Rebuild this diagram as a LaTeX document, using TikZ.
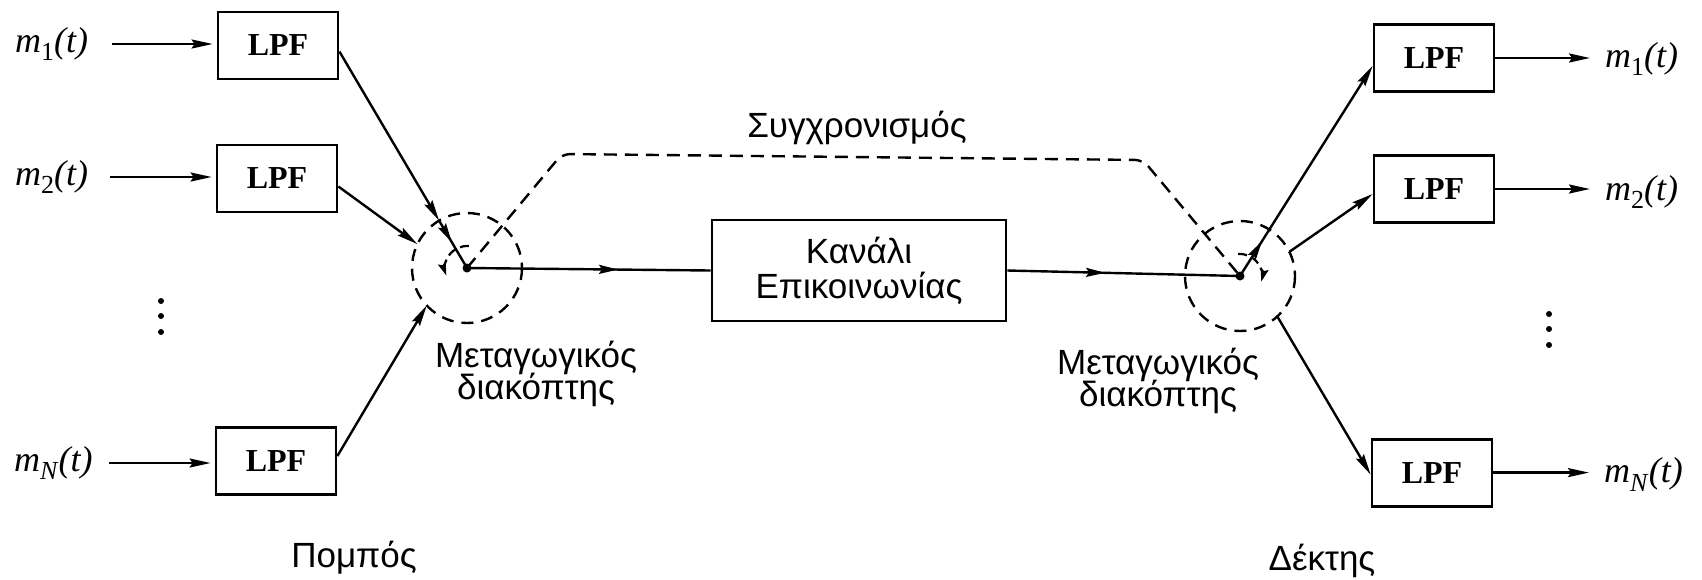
\documentclass[tikz,border=0pt]{standalone}
\usepackage{fontspec}
\setmainfont{Liberation Serif}
\setsansfont{Liberation Sans}
\usetikzlibrary{arrows.meta,decorations.markings,calc}

% message symbol m_i(t)
\newcommand\msig[1]{\textit{m}\raisebox{-8.5pt}{\fontsize{26}{26}\selectfont #1}\textit{(t)}}

\begin{document}
\begin{tikzpicture}[x=1pt,y=-1pt,
  lpf/.style={draw, line width=2.8pt, minimum width=120pt, minimum height=67pt,
    inner sep=0pt, font=\bfseries\fontsize{32}{32}\selectfont},
  chan/.style={draw, line width=2.8pt, minimum width=294pt, minimum height=101pt,
    inner sep=0pt, align=center, font=\sffamily\fontsize{35}{35}\selectfont},
  lbl/.style={inner sep=0pt, font=\sffamily\fontsize{35}{35}\selectfont},
  msg/.style={inner sep=0pt, font=\fontsize{36}{36}\selectfont},
  wire/.style={line width=2.4pt},
  arr/.style={wire, -{Stealth[length=21pt,width=9pt,inset=3pt]}},
  midarr/.style={wire, postaction={decorate},
    decoration={markings, mark=at position #1 with {\arrow{Stealth[length=19pt,width=9pt,inset=3pt]}}}},
  sync/.style={line width=2.4pt, dash pattern=on 13pt off 8pt, rounded corners=8pt},
  comm/.style={line width=2.4pt, dash pattern=on 12pt off 8pt},
  spin/.style={line width=2.2pt, dash pattern=on 9pt off 5pt,
    -{Stealth[length=13pt,width=8pt,inset=2pt]}},
  dot/.style={circle, fill, inner sep=0pt, minimum size=9pt},
  vdot/.style={circle, fill, inner sep=0pt, minimum size=6pt}
]
\path[fill=white] (0,0) rectangle (1702,579);
\useasboundingbox (0,0) rectangle (1702,579);

% ---------- transmitter ----------
\node[lpf] (l1) at (278,45.5) {LPF};
\node[lpf] (l2) at (277,178.5) {LPF};
\node[lpf] (lN) at (276,461) {LPF};

\node[msg, anchor=west] (i1) at (15,44) {\msig{1}};
\node[msg, anchor=west] (i2) at (15,177) {\msig{2}};
\node[msg, anchor=west] (iN) at (14,463) {\msig{\textit{N}}};

\draw[arr, shorten <=24pt, shorten >=4pt] (i1.east) -- (i1.east -| l1.west);
\draw[arr, shorten <=22pt, shorten >=4pt] (i2.east) -- (i2.east -| l2.west);
\draw[arr, shorten <=16pt, shorten >=4pt] (iN.east) -- (iN.east -| lN.west);

\node[vdot] (dl1) at (161,301) {};
\node[vdot] (dl2) at (161,316) {};
\node[vdot] (dl3) at (161,332) {};

% transmitter commutator
\coordinate (O1) at (467,268);
\draw[comm] (O1) circle[radius=55];
\coordinate (a1) at ([yshift=-6pt]l1.east);
\coordinate (a2) at ([yshift=-8pt]l2.east);
\coordinate (aN) at ([yshift=5pt]lN.east);
\coordinate (k1) at ($(O1)!55pt!(a1)$);
\coordinate (k2) at ($(O1)+(205.7:55)$);
\coordinate (kN) at ($(O1)+(137.1:55)$);
\draw[arr] (a1) -- (k1);
\draw[midarr=0.45] (k1) -- (O1);
\draw[arr] (a2) -- (k2);
\draw[arr] (aN) -- (kN);
\draw[spin] ($(O1)+(-85:22)$) arc[start angle=-85, end angle=-200, radius=22];

% ---------- channel ----------
\node[chan] (ch) at (859,270.5) {Κανάλι\\Επικοινωνίας};

% ---------- receiver commutator ----------
\coordinate (O2) at (1240,276);
\draw[comm] (O2) circle[radius=55];

\draw[midarr=0.62] (O1) -- (ch.west);
\draw[midarr=0.42] (ch.east) -- (O2);

% synchronisation link
\coordinate (s1) at (562,154);
\coordinate (s2) at (1143,160);
\draw[sync] (O1) -- (s1) -- (s2) -- (O2);

% ---------- receiver ----------
\node[lpf] (r1) at (1434,58) {LPF};
\node[lpf] (r2) at (1434,189) {LPF};
\node[lpf] (rN) at (1432,472.6) {LPF};

\coordinate (b1) at ([yshift=-8pt]r1.west);
\coordinate (b2) at ([yshift=-5pt]r2.west);
\coordinate (bN) at ([yshift=-2pt]rN.west);
\coordinate (k3) at ($(O2)!55pt!(b1)$);
\coordinate (k4) at ($(O2)+(333.9:55)$);
\coordinate (k5) at ($(O2)+(47.3:55)$);
\draw[midarr=0.75] (O2) -- (k3);
\draw[arr] (k3) -- (b1);
\draw[arr] (k4) -- (b2);
\draw[arr] (k5) -- (bN);
\draw[spin] ($(O2)+(-95:22)$) arc[start angle=-95, end angle=15, radius=22];

\node[msg, anchor=west] (o1) at (1605,59) {\msig{1}};
\node[msg, anchor=west] (o2) at (1605,192) {\msig{2}};
\node[msg, anchor=west] (oN) at (1604,474.5) {\msig{\textit{N}}};

\draw[arr, shorten >=15pt] (r1.east) -- (r1.east -| o1.west);
\draw[arr, shorten >=15pt] (r2.east) -- (r2.east -| o2.west);
\draw[arr, shorten >=15pt] (rN.east) -- (rN.east -| oN.west);

\node[vdot] (dr1) at (1549,314) {};
\node[vdot] (dr2) at (1549,329) {};
\node[vdot] (dr3) at (1549,345) {};

% switch pivots
\node[dot] (c1) at (O1) {};
\node[dot] (c2) at (O2) {};

% ---------- labels ----------
\node[lbl, anchor=base] (sy) at (857,137) {Συγχρονισμός};
\node[lbl, anchor=base, text depth=0pt] (swa1) at (536,367) {Μεταγωγικός};
\node[lbl, anchor=base] (swa2) at (536,399) {διακόπτης};
\node[lbl, anchor=base, text depth=0pt] (swb1) at (1158,374) {Μεταγωγικός};
\node[lbl, anchor=base] (swb2) at (1158,406) {διακόπτης};
\node[lbl, anchor=base] (tx) at (354,567) {Πομπός};
\node[lbl, anchor=base] (rx) at (1322,570) {Δέκτης};
\end{tikzpicture}
\end{document}
